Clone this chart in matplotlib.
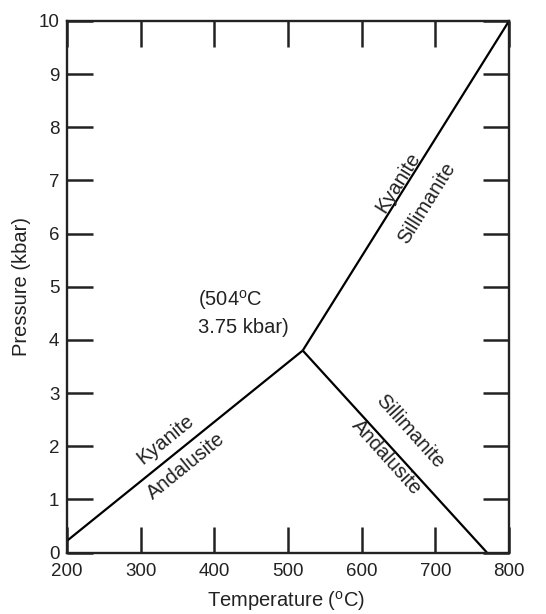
import matplotlib
matplotlib.use("Agg")
import matplotlib.pyplot as plt
import numpy as np

plt.rcParams['font.family'] = ['Liberation Sans', 'DejaVu Sans']
plt.rcParams['mathtext.fontset'] = 'custom'
plt.rcParams['mathtext.rm'] = 'Liberation Sans'

# reaction boundaries (temperature in C, pressure in kbar)
triple_T = 520
triple_P = 3.8
ky_and_T = [200, triple_T]
ky_and_P = [0.22, triple_P]
ky_sil_T = [triple_T, 800]
ky_sil_P = [triple_P, 10]
sil_and_T = [triple_T, 770]
sil_and_P = [triple_P, 0]

x_ticks = [200, 300, 400, 500, 600, 700, 800]
y_ticks = list(range(0, 11))

fig = plt.figure(figsize=(5.46, 6.14), dpi=100)
ax = fig.add_axes([67/546, 1 - 552.5/614, 442/546, 531.5/614])

for T, P in [(ky_and_T, ky_and_P), (ky_sil_T, ky_sil_P), (sil_and_T, sil_and_P)]:
    ax.plot(T, P, color="black", lw=1.6, solid_capstyle="butt")

ax.set_xlim(200, 800)
ax.set_ylim(0, 10)
ax.set_xticks(x_ticks)
ax.set_yticks(y_ticks)
ax.tick_params(direction="in", length=18.5, width=1.8, labelsize=13.5,
               top=True, right=True, colors="#222222")
ax.tick_params(axis="x", pad=7.5)
ax.tick_params(axis="y", pad=5.5)
for s in ax.spines.values():
    s.set_linewidth(1.7)
    s.set_color("#222222")

fig.text(22/546, 1 - 287/614, "Pressure (kbar)", rotation=90, ha="center", va="center",
         fontsize=14.5, color="#222222")
fig.text(286/546, 1 - 601/614, r"Temperature ($^{\rm o}$C)", ha="center", va="center",
         fontsize=14.5, color="#222222")

# phase labels along the lines
def label(x, y, s, ang):
    ax.text(x, y, s, rotation=ang, rotation_mode="anchor", ha="center", va="center",
            fontsize=14.5, color="#222222")

label(334, 2.12, "Kyanite", 39)
label(361, 1.62, "Andalusite", 39)
label(649, 6.97, "Kyanite", 58)
label(689, 6.58, "Sillimanite", 58)
label(665, 2.27, "Sillimanite", -48)
label(634, 1.8, "Andalusite", -48)

ax.text(378, 4.75, "(504$^{\\rm o}$C", ha="left", va="center", fontsize=14.5, color="#222222")
ax.text(378, 4.23, "3.75 kbar)", ha="left", va="center", fontsize=14.5, color="#222222")

fig.savefig("out.png", dpi=100)
